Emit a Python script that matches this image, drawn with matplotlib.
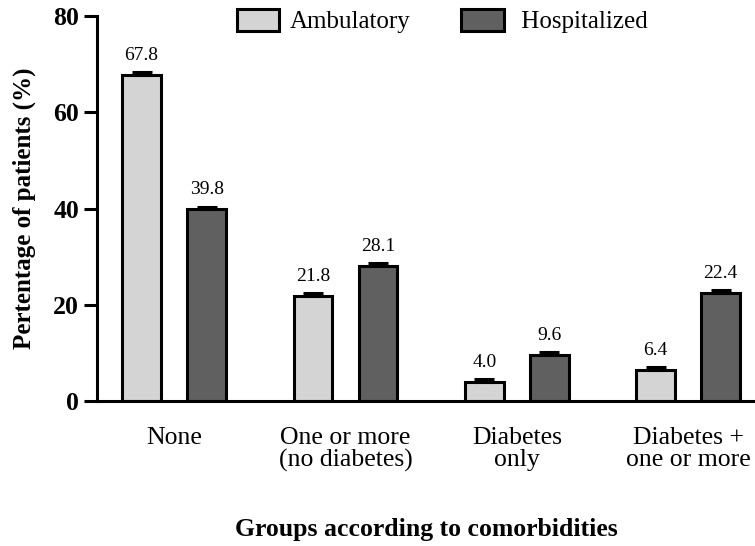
import numpy as np
import matplotlib
matplotlib.use("Agg")
from matplotlib import pyplot as plt

# data
groups = ['None', 'One or more\n(no diabetes)', 'Diabetes\nonly', 'Diabetes +\none or more']
ambulatory = [67.8, 21.8, 4.0, 6.4]
hospitalized = [39.8, 28.1, 9.6, 22.4]
amb_err = [0.6, 0.6, 0.6, 0.6]
hosp_err = [0.6, 0.6, 0.6, 0.6]

plt.rcParams['font.family'] = ['Liberation Serif', 'DejaVu Serif']

fig = plt.figure(figsize=(7.55, 5.46), dpi=100)
ax = fig.add_axes([97 / 755, 1 - 401 / 546, 1 - 97 / 755, 385 / 546])

x = np.arange(len(groups))
off = 0.19
w = 0.225
lw = 2.2

ax.bar(x - off, ambulatory, w, color='#d4d4d4', edgecolor='black', linewidth=lw,
       label='Ambulatory', zorder=2)
ax.bar(x + off, hospitalized, w, color='#606060', edgecolor='black', linewidth=lw,
       label=' Hospitalized', zorder=2)

# only the upper half of the error bars shows
ax.errorbar(x - off, ambulatory, yerr=[np.zeros(4), amb_err], fmt='none', ecolor='black',
            elinewidth=lw, capsize=7.5, capthick=lw, zorder=3)
ax.errorbar(x + off, hospitalized, yerr=[np.zeros(4), hosp_err], fmt='none', ecolor='black',
            elinewidth=lw, capsize=7.5, capthick=lw, zorder=3)

for xi, v in zip(x - off, ambulatory):
    ax.annotate(f'{v:.1f}', (xi, v), xytext=(0, 8), textcoords='offset points',
                ha='center', va='bottom', fontsize=14)
for xi, v in zip(x + off, hospitalized):
    ax.annotate(f'{v:.1f}', (xi, v), xytext=(0, 8), textcoords='offset points',
                ha='center', va='bottom', fontsize=14)

ax.set_xlim(-0.45, 3.39)
ax.set_ylim(0, 80)
ax.set_yticks([0, 20, 40, 60, 80])
ax.set_xticks(x)
ax.set_xticklabels(groups, fontsize=18.5, linespacing=1.0)
for lab in ax.get_yticklabels():
    lab.set_fontweight('bold')
    lab.set_fontsize(18.5)

ax.spines['top'].set_visible(False)
ax.spines['right'].set_visible(False)
ax.spines['left'].set_linewidth(lw)
ax.spines['bottom'].set_linewidth(lw)
ax.tick_params(axis='y', length=9.5, width=lw, pad=3.5)
ax.tick_params(axis='x', length=0, pad=19)

ax.set_ylabel('Pertentage of patients (%)', fontsize=18, fontweight='bold', labelpad=12)
ax.set_xlabel('Groups according to comorbidities', fontsize=18.5, fontweight='bold',
              labelpad=33)

leg = ax.legend(loc='upper left', bbox_to_anchor=(224 / 755, 1 + 4 / 546),
                bbox_transform=fig.transFigure, ncol=2, frameon=False, fontsize=18,
                borderpad=0, handlelength=1.7, handleheight=1.0, handletextpad=0.45,
                columnspacing=2.0)
for p in leg.get_patches():
    p.set_linewidth(lw)

fig.savefig('out.png', dpi=100)
